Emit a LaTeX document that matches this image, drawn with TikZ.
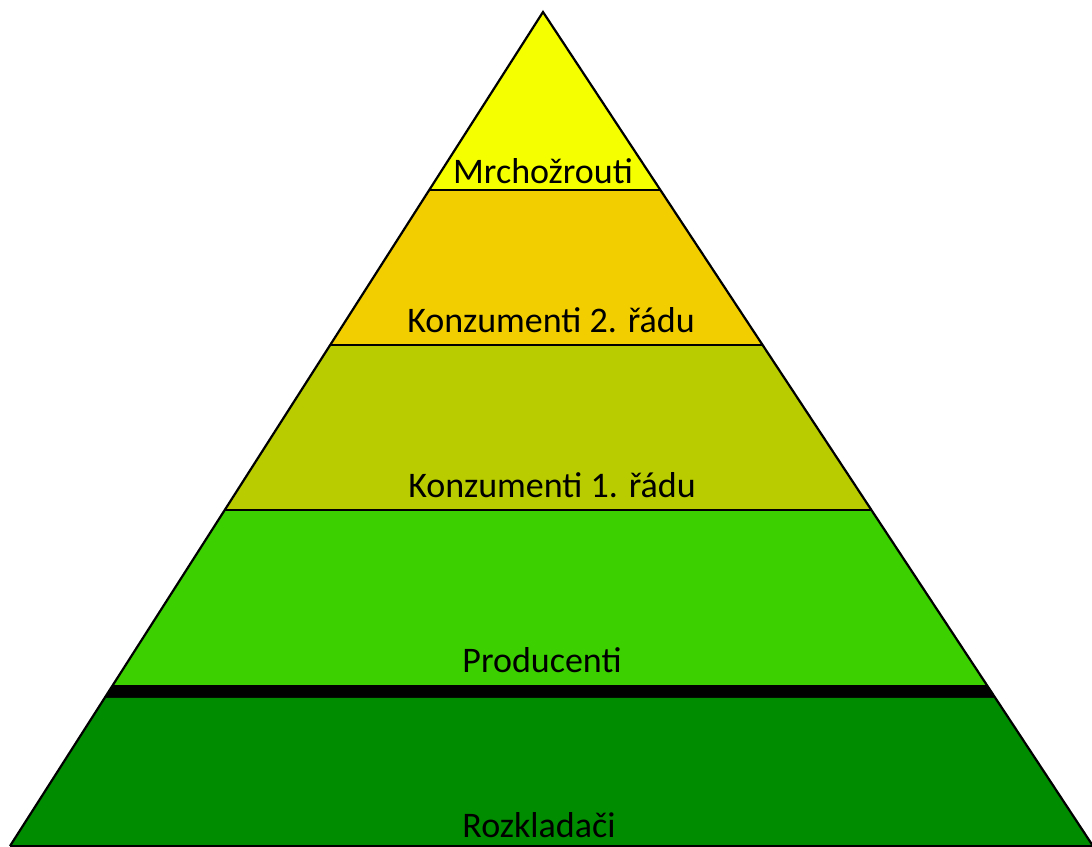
\documentclass[tikz,border=0pt]{standalone}
\usepackage{fontspec}
\setmainfont{Carlito}
\usetikzlibrary{calc}
\definecolor{lvA}{RGB}{245,255,0}
\definecolor{lvB}{RGB}{242,206,0}
\definecolor{lvC}{RGB}{184,204,0}
\definecolor{lvD}{RGB}{60,208,0}
\definecolor{lvE}{RGB}{0,140,0}
\tikzset{
  lbl/.style={anchor=base, inner sep=0pt, font=\fontsize{36}{42}\selectfont},
  sep/.style={draw=black, line width=1.3pt},
  edge/.style={draw=black, line width=2.2pt, line join=miter}
}
\begin{document}
\begin{tikzpicture}[x=1pt, y={(0pt,-1pt)}]
\useasboundingbox (0,0) rectangle (1092,846);
\coordinate (apex) at (543,12);
\coordinate (BL) at (10,846);
\coordinate (BR) at (1093,846);
% band boundary points
\coordinate (L1) at ($(apex)!0.2134!(BL)$); \coordinate (R1) at ($(apex)!0.2134!(BR)$);
\coordinate (L2) at ($(apex)!0.3993!(BL)$); \coordinate (R2) at ($(apex)!0.3993!(BR)$);
\coordinate (L3) at ($(apex)!0.5971!(BL)$); \coordinate (R3) at ($(apex)!0.5971!(BR)$);
\coordinate (L4) at ($(apex)!0.8070!(BL)$); \coordinate (R4) at ($(apex)!0.8070!(BR)$);
\coordinate (L5) at ($(apex)!0.8225!(BL)$); \coordinate (R5) at ($(apex)!0.8225!(BR)$);
% fills
\fill[lvA] (apex) -- (R1) -- (L1) -- cycle;
\fill[lvB] (L1) -- (R1) -- (R2) -- (L2) -- cycle;
\fill[lvC] (L2) -- (R2) -- (R3) -- (L3) -- cycle;
\fill[lvD] (L3) -- (R3) -- (R4) -- (L4) -- cycle;
\fill[black] (L4) -- (R4) -- (R5) -- (L5) -- cycle;
\fill[lvE] (L5) -- (R5) -- (BR) -- (BL) -- cycle;
% separators
\draw[sep] (L1) -- (R1);
\draw[sep] (L2) -- (R2);
\draw[sep] (L3) -- (R3);
% outline
\draw[edge] (BL) -- (apex) -- (BR);
\draw[sep] (BL) -- (BR);
% labels
\node[lbl] (t1) at (543,183) {Mrchožrouti};
\node[lbl] (t2) at (551,332) {Konzumenti 2. řádu};
\node[lbl] (t3) at (552,497) {Konzumenti 1. řádu};
\node[lbl] (t4) at (542,672) {Producenti};
\node[lbl] (t5) at (539,837) {Rozkladači};
\end{tikzpicture}
\end{document}
